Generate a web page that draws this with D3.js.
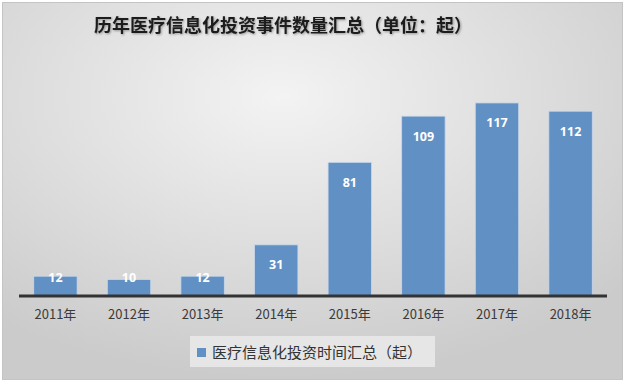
<!DOCTYPE html>
<html><head><meta charset="utf-8">
<script src="https://cdn.jsdelivr.net/npm/d3@7"></script>
<style>html,body{margin:0;padding:0;background:#fff;}svg{display:block;}</style>
</head><body>
<svg id="c" width="627" height="383"></svg>
<script>
const categories = ["2011年","2012年","2013年","2014年","2015年","2016年","2017年","2018年"];
const values = [12,10,12,31,81,109,117,112];
const titleText = "历年医疗信息化投资事件数量汇总（单位：起）";
const legendText = "医疗信息化投资时间汇总（起）";

const svg = d3.select("#c");
const defs = svg.append("defs");
const rg = defs.append("radialGradient").attr("id","bg")
  .attr("cx","45%").attr("cy","25%").attr("r","75%");
rg.append("stop").attr("offset","0%").attr("stop-color","#f3f3f3");
rg.append("stop").attr("offset","100%").attr("stop-color","#cbcbcb");
const f = defs.append("filter").attr("id","ts").attr("x","-5%").attr("y","-20%").attr("width","110%").attr("height","140%");
f.append("feDropShadow").attr("dx",1).attr("dy",1).attr("stdDeviation",0.8).attr("flood-color","#000").attr("flood-opacity",0.35);

svg.append("rect").attr("x",2.5).attr("y",2.5).attr("width",620).attr("height",377)
  .attr("fill","url(#bg)").attr("stroke","#c4c4c4").attr("stroke-width",1);

const x = d3.scaleBand().domain(categories).range([19,607]).paddingInner(0.41).paddingOuter(0.2);
const y = d3.scaleLinear().domain([0,140]).range([296,65]);

svg.append("text").attr("x",283).attr("y",32).attr("text-anchor","middle")
  .attr("font-family","'Noto Sans CJK SC', sans-serif").attr("font-weight","bold")
  .attr("font-size",18).attr("fill","#1e1e1e").attr("filter","url(#ts)").text(titleText);

svg.append("g").selectAll("rect").data(values).join("rect")
  .attr("x",(d,i)=>x(categories[i])).attr("width",x.bandwidth())
  .attr("y",d=>y(d)).attr("height",d=>y(0)-y(d))
  .attr("fill","#6190c5").attr("stroke","#c9d8ea").attr("stroke-width",0.8);

svg.append("g").selectAll("text").data(values).join("text")
  .attr("x",(d,i)=>x(categories[i])+x.bandwidth()/2)
  .attr("y",d=>Math.min(y(d)+20, y(0)-19)+4.5)
  .attr("text-anchor","middle").attr("font-family","'Noto Sans', 'DejaVu Sans', sans-serif")
  .attr("font-weight","bold").attr("font-size",12.5).attr("fill","#ffffff")
  .text(d=>d);

const xa = svg.append("g").attr("transform",`translate(0,${y(0)})`)
  .call(d3.axisBottom(x).tickSize(0).tickPadding(14));
xa.select(".domain").attr("stroke","#333").attr("stroke-width",3).attr("d","M19,0H607");
xa.selectAll("text").attr("font-family","'Noto Sans CJK SC', sans-serif").attr("font-size",13).attr("fill","#3a3a3a");

const lg = svg.append("g");
lg.append("rect").attr("x",190).attr("y",336).attr("width",245).attr("height",31).attr("fill","#e6e6e6");
lg.append("rect").attr("x",197).attr("y",348).attr("width",9).attr("height",9).attr("fill","#6190c5");
lg.append("text").attr("x",212).attr("y",357.5).attr("font-family","'Noto Sans CJK SC', sans-serif")
  .attr("font-size",15).attr("fill","#333").text(legendText);
</script>
</body></html>
